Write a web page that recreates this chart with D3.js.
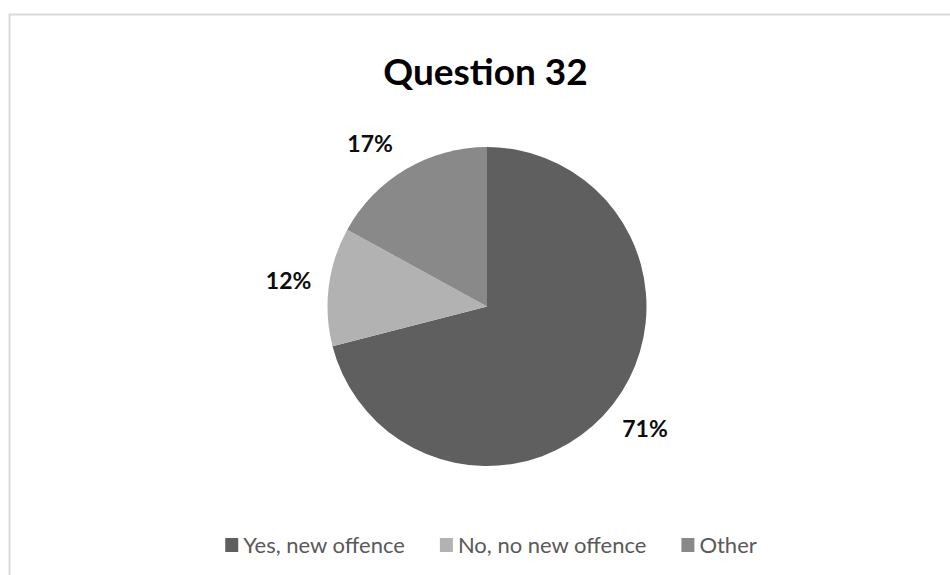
<!DOCTYPE html>
<html><head><meta charset="utf-8">
<script src="https://cdn.jsdelivr.net/npm/d3@7"></script>
<style>body{margin:0;background:#fff;}svg{display:block;}</style>
</head><body>
<svg id="chart" width="950" height="575"></svg>
<script>
const title = "Question 32";
const categories = ["Yes, new offence", "No, no new offence", "Other"];
const values = [71, 12, 17];
const colors = ["#5f5f5f", "#b2b2b2", "#898989"];
const labelText = ["71%", "12%", "17%"];

const svg = d3.select("#chart");
const font = "Lato, 'Open Sans', sans-serif";

svg.append("rect").attr("x", 9.5).attr("y", 14.5).attr("width", 950).attr("height", 600)
  .attr("fill", "#fff").attr("stroke", "#d9d9d9").attr("stroke-width", 2);

svg.append("text").attr("x", 485.5).attr("y", 85).attr("text-anchor", "middle")
  .attr("font-family", font).attr("font-weight", "bold").attr("font-size", 37)
  .attr("fill", "#000").text(title);

const cx = 487, cy = 306.5, r = 159.5;
const data = categories.map((c, i) => ({c, v: values[i], col: colors[i], lab: labelText[i]}));
const pie = d3.pie().value(d => d.v).sort(null);
const arc = d3.arc().innerRadius(0).outerRadius(r);
const arcs = pie(data);
const g = svg.append("g").attr("transform", `translate(${cx},${cy})`);
g.selectAll("path").data(arcs).join("path").attr("d", arc).attr("fill", d => d.data.col);

// labels placed just outside the slices (best-fit nudge for the top-left slice)
const labelR = 200;
g.selectAll("text.lab").data(arcs).join("text").attr("class", "lab")
  .attr("transform", d => {
    let a = (d.startAngle + d.endAngle) / 2;
    if (a > 1.75 * Math.PI) a -= 0.09;
    return `translate(${labelR * Math.sin(a)},${-labelR * Math.cos(a)})`;
  })
  .attr("text-anchor", "middle").attr("dy", "0.35em")
  .attr("font-family", font).attr("font-weight", "bold").attr("font-size", 23)
  .attr("fill", "#0d0d0d").text(d => d.data.lab);

// legend
const legend = svg.append("g").attr("font-family", font).attr("font-size", 22).attr("fill", "#595959");
const widths = [];
const tmp = legend.selectAll("text.tmp").data(categories).join("text").text(d => d);
tmp.each(function(){ widths.push(this.getComputedTextLength()); });
tmp.remove();
const sw = 13, gap = 5, spacing = 35;
const total = d3.sum(widths) + categories.length * (sw + gap) + spacing * (categories.length - 1);
let x = 491 - total / 2;
const ly = 545;
categories.forEach((c, i) => {
  legend.append("rect").attr("x", x).attr("y", ly - 7).attr("width", sw).attr("height", 14).attr("fill", colors[i]);
  legend.append("text").attr("x", x + sw + gap).attr("y", ly).attr("dy", "0.35em").text(c);
  x += sw + gap + widths[i] + spacing;
});
</script>
</body></html>
